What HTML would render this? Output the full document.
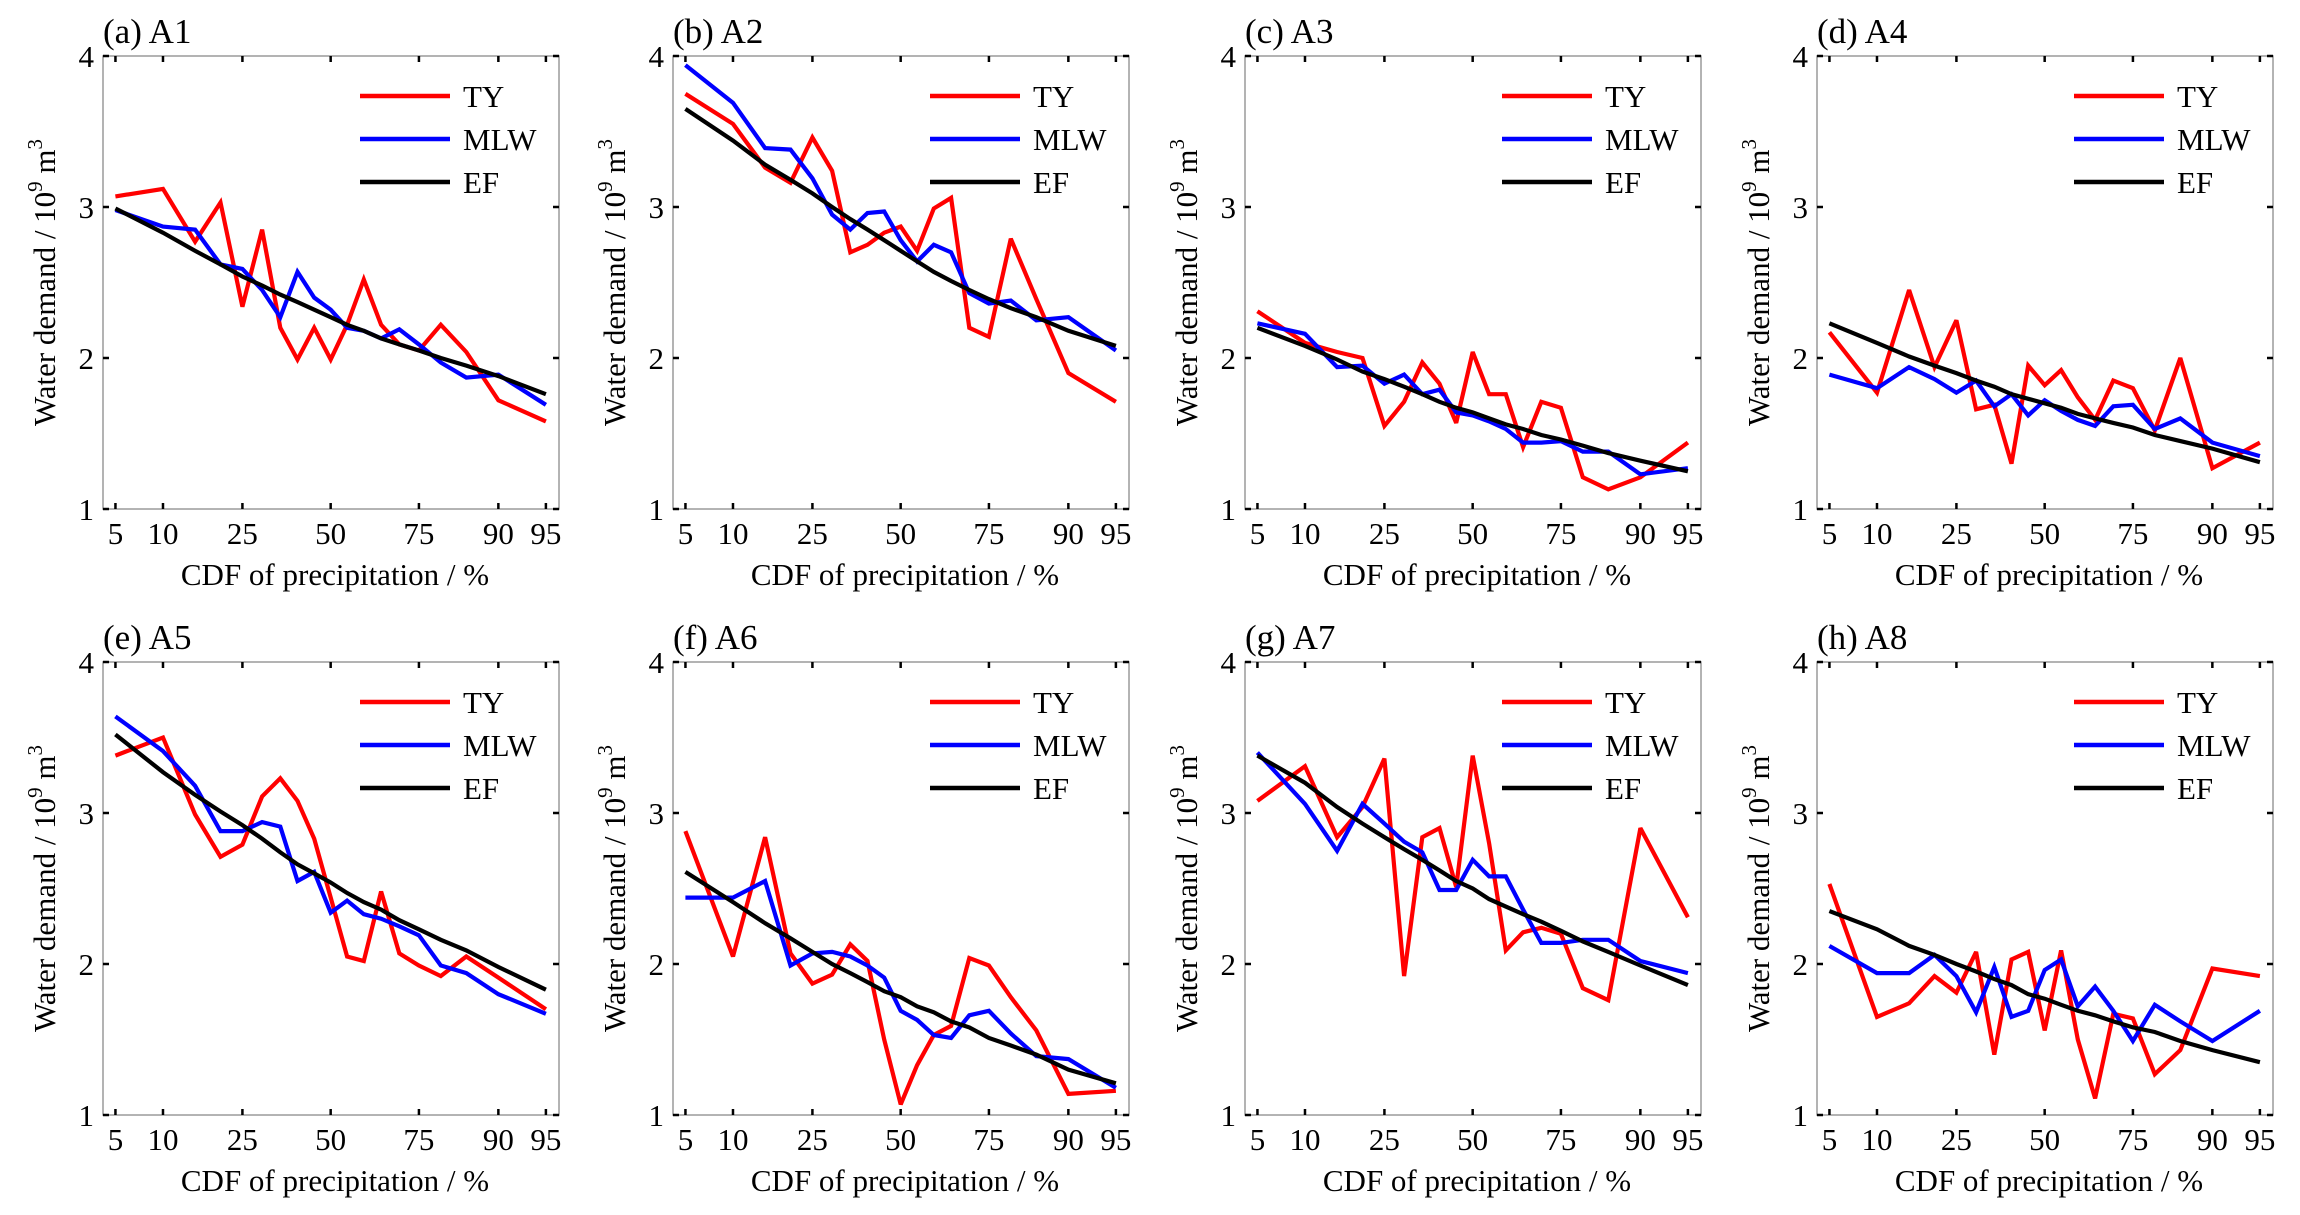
<!DOCTYPE html>
<html><head><meta charset="utf-8"><title>Water demand vs CDF of precipitation</title>
<style>
html,body{margin:0;padding:0;background:#fff;}
svg{display:block;}
svg text{font-family:"Liberation Serif","DejaVu Serif",serif;}
</style></head>
<body>
<svg id="fig" width="2300" height="1215" viewBox="0 0 2300 1215" xmlns="http://www.w3.org/2000/svg" font-family="Liberation Serif, DejaVu Serif, serif"></svg>
<script>
// ---- data ----
const percentiles = [5,10,15,20,25,30,35,40,45,50,55,60,65,70,75,80,85,90,95];
const xTickLabels = [5,10,25,50,75,90,95];
const yTickLabels = [1,2,3,4];
const panelTitles = ["(a) A1","(b) A2","(c) A3","(d) A4","(e) A5","(f) A6","(g) A7","(h) A8"];
const seriesNames = ["TY","MLW","EF"];
const seriesColors = ["#ff0000","#0000ff","#000000"];

const tyA1 = [3.07,3.12,2.77,3.03,2.34,2.85,2.20,1.99,2.20,1.99,2.22,2.52,2.22,2.09,2.05,2.22,2.04,1.72,1.58];
const mlwA1 = [2.98,2.87,2.85,2.62,2.59,2.45,2.27,2.57,2.40,2.32,2.20,2.18,2.13,2.19,2.09,1.97,1.87,1.89,1.69];
const efA1 = [2.99,2.83,2.71,2.62,2.54,2.48,2.42,2.37,2.32,2.27,2.22,2.18,2.13,2.09,2.05,2.00,1.95,1.88,1.76];

const tyA2 = [3.75,3.55,3.26,3.16,3.46,3.24,2.70,2.75,2.83,2.87,2.71,2.99,3.06,2.20,2.14,2.79,2.39,1.90,1.71];
const mlwA2 = [3.94,3.69,3.39,3.38,3.19,2.95,2.85,2.96,2.97,2.78,2.64,2.75,2.70,2.43,2.36,2.38,2.25,2.27,2.05];
const efA2 = [3.65,3.44,3.28,3.18,3.09,3.00,2.92,2.85,2.78,2.71,2.64,2.57,2.51,2.45,2.39,2.33,2.27,2.18,2.08];

const tyA3 = [2.31,2.10,2.04,2.00,1.55,1.71,1.97,1.83,1.57,2.04,1.76,1.76,1.41,1.71,1.67,1.21,1.13,1.21,1.44];
const mlwA3 = [2.23,2.16,1.94,1.95,1.83,1.89,1.76,1.79,1.64,1.62,1.58,1.53,1.44,1.44,1.45,1.38,1.38,1.23,1.27];
const efA3 = [2.20,2.08,1.99,1.91,1.86,1.81,1.76,1.71,1.67,1.64,1.60,1.56,1.53,1.49,1.46,1.42,1.37,1.32,1.25];

const tyA4 = [2.17,1.77,2.45,1.94,2.25,1.66,1.69,1.30,1.95,1.82,1.92,1.74,1.59,1.85,1.80,1.52,2.00,1.27,1.44];
const mlwA4 = [1.89,1.80,1.94,1.86,1.77,1.85,1.68,1.76,1.62,1.72,1.65,1.59,1.55,1.68,1.69,1.53,1.60,1.44,1.35];
const efA4 = [2.23,2.10,2.01,1.95,1.90,1.85,1.81,1.76,1.73,1.70,1.67,1.63,1.60,1.57,1.54,1.49,1.45,1.40,1.31];

const tyA5 = [3.38,3.50,2.99,2.71,2.79,3.11,3.23,3.08,2.83,2.44,2.05,2.02,2.48,2.07,1.99,1.92,2.05,1.91,1.70];
const mlwA5 = [3.64,3.41,3.18,2.88,2.88,2.94,2.91,2.55,2.61,2.34,2.42,2.33,2.30,2.25,2.19,1.99,1.94,1.80,1.67];
const efA5 = [3.52,3.27,3.12,3.01,2.92,2.83,2.74,2.66,2.60,2.54,2.47,2.41,2.36,2.29,2.23,2.16,2.09,1.98,1.83];

const tyA6 = [2.88,2.05,2.84,2.07,1.87,1.93,2.13,2.02,1.50,1.07,1.33,1.53,1.59,2.04,1.99,1.78,1.56,1.14,1.16];
const mlwA6 = [2.44,2.44,2.55,1.99,2.07,2.08,2.05,1.99,1.91,1.69,1.63,1.53,1.51,1.66,1.69,1.54,1.39,1.37,1.18];
const efA6 = [2.61,2.41,2.27,2.17,2.08,2.00,1.94,1.88,1.82,1.78,1.72,1.68,1.62,1.58,1.51,1.46,1.40,1.30,1.21];

const tyA7 = [3.08,3.31,2.84,3.04,3.36,1.92,2.84,2.90,2.51,3.38,2.80,2.09,2.21,2.24,2.20,1.84,1.76,2.90,2.31];
const mlwA7 = [3.40,3.06,2.75,3.06,2.93,2.81,2.74,2.49,2.49,2.69,2.58,2.58,2.36,2.14,2.14,2.16,2.16,2.02,1.94];
const efA7 = [3.38,3.20,3.04,2.93,2.84,2.76,2.69,2.62,2.55,2.50,2.43,2.38,2.33,2.28,2.22,2.15,2.08,1.99,1.86];

const tyA8 = [2.53,1.65,1.74,1.92,1.81,2.08,1.40,2.03,2.08,1.56,2.09,1.50,1.11,1.67,1.64,1.27,1.43,1.97,1.92];
const mlwA8 = [2.12,1.94,1.94,2.06,1.92,1.68,1.98,1.65,1.69,1.96,2.03,1.72,1.85,1.69,1.49,1.73,1.62,1.49,1.69];
const efA8 = [2.35,2.23,2.12,2.06,2.00,1.95,1.90,1.86,1.80,1.77,1.73,1.69,1.66,1.62,1.58,1.55,1.49,1.43,1.35];

const panelSeries = [
  [tyA1,mlwA1,efA1],[tyA2,mlwA2,efA2],[tyA3,mlwA3,efA3],[tyA4,mlwA4,efA4],
  [tyA5,mlwA5,efA5],[tyA6,mlwA6,efA6],[tyA7,mlwA7,efA7],[tyA8,mlwA8,efA8]
];

// ---- helpers ----
const NS = "http://www.w3.org/2000/svg";
const FONT = "Liberation Serif, DejaVu Serif, serif";
const svg = document.getElementById("fig");
function mk(tag, attrs, parent){
  const e = document.createElementNS(NS, tag);
  for (const k in attrs) e.setAttribute(k, attrs[k]);
  if (tag === "text") e.setAttribute("font-family", FONT);
  (parent||svg).appendChild(e);
  return e;
}
function norminv(p){
  const a=[-39.6968302866538,220.946098424521,-275.928510446969,138.357751867269,-30.6647980661472,2.50662827745924];
  const b=[-54.4760987982241,161.585836858041,-155.698979859887,66.8013118877197,-13.2806815528857];
  const c=[-0.00778489400243029,-0.322396458041136,-2.40075827716184,-2.54973253934373,4.37466414146497,2.93816398269878];
  const d=[0.00778469570904146,0.32246712907004,2.445134137143,3.75440866190742];
  const pl=0.02425;
  let q,r;
  if(p<pl){q=Math.sqrt(-2*Math.log(p));return (((((c[0]*q+c[1])*q+c[2])*q+c[3])*q+c[4])*q+c[5])/((((d[0]*q+d[1])*q+d[2])*q+d[3])*q+1);}
  if(p>1-pl){q=Math.sqrt(-2*Math.log(1-p));return -(((((c[0]*q+c[1])*q+c[2])*q+c[3])*q+c[4])*q+c[5])/((((d[0]*q+d[1])*q+d[2])*q+d[3])*q+1);}
  q=p-0.5;r=q*q;
  return (((((a[0]*r+a[1])*r+a[2])*r+a[3])*r+a[4])*r+a[5])*q/(((((b[0]*r+b[1])*r+b[2])*r+b[3])*r+b[4])*r+1);
}

const lefts = [103, 673, 1245, 1817];
const rowOff = [0, 606];
const W = 456, TOP = 56, BOT = 509;
const zMin = -1.74, zMax = 1.745, yMin = 1, yMax = 4;

for (let p = 0; p < 8; p++){
  const L = lefts[p % 4], R = L + W;
  const T = TOP + rowOff[Math.floor(p/4)], B = BOT + rowOff[Math.floor(p/4)];
  const xs = pc => L + (norminv(pc/100) - zMin) / (zMax - zMin) * W;
  const ys = v => B - (v - yMin) / (yMax - yMin) * (B - T);

  const g = mk("g", {});
  
  

  const box = mk("rect", {x:L, y:T, width:W, height:B-T, fill:"none", stroke:"#9a9a9a", "stroke-width":1.5}, g);
  
  

  const tt = mk("text", {x:L, y:T-13, "font-size":35, fill:"#000"}, g);
  tt.textContent = panelTitles[p];
  
  

  xTickLabels.forEach(v => {
    const x = xs(v);
    mk("line", {x1:x, x2:x, y1:B, y2:B-6, stroke:"#000", "stroke-width":2.5}, g);
    mk("line", {x1:x, x2:x, y1:T, y2:T+6, stroke:"#000", "stroke-width":2.5}, g);
    const t = mk("text", {x:x, y:B+35, "font-size":31, "text-anchor":"middle", fill:"#000"}, g);
    t.textContent = v;
    
    
  });
  yTickLabels.forEach(v => {
    const y = ys(v);
    mk("line", {x1:L, x2:L+6, y1:y, y2:y, stroke:"#000", "stroke-width":2.5}, g);
    mk("line", {x1:R, x2:R-6, y1:y, y2:y, stroke:"#000", "stroke-width":2.5}, g);
    const t = mk("text", {x:L-9, y:y+11, "font-size":31, "text-anchor":"end", fill:"#000"}, g);
    t.textContent = v;
    
    
  });

  const xl = mk("text", {x:L + W/2 + 4, y:B + 76, "font-size":31, "text-anchor":"middle", fill:"#000"}, g);
  xl.textContent = "CDF of precipitation / %";
  
  

  const cy = (T + B) / 2;
  const yl = mk("text", {x:0, y:0, "font-size":31, "text-anchor":"middle", fill:"#000",
    transform:"translate(" + (L-48) + "," + cy + ") rotate(-90)"}, g);
  
  
  const s1 = mk("tspan", {}, yl); s1.textContent = "Water demand / 10";
  const s2 = mk("tspan", {dy:-13, "font-size":21}, yl); s2.textContent = "9";
  const s3 = mk("tspan", {dy:13}, yl); s3.textContent = " m";
  const s4 = mk("tspan", {dy:-13, "font-size":21}, yl); s4.textContent = "3";

  panelSeries[p].forEach((vals, si) => {
    const pts = vals.map((v,i) => xs(percentiles[i]).toFixed(1) + "," + ys(v).toFixed(1)).join(" ");
    const pl = mk("polyline", {points:pts, fill:"none", stroke:seriesColors[si], "stroke-width":4.2, "stroke-linejoin":"miter", "stroke-miterlimit":3}, g);
    
    
  });

  seriesNames.forEach((nm, si) => {
    const ly = T + 40 + si * 43;
    const le = mk("g", {}, g);
    
    
    mk("line", {x1:L+257, x2:L+347, y1:ly, y2:ly, stroke:seriesColors[si], "stroke-width":4.5}, le);
    const t = mk("text", {x:L+360, y:ly+11, "font-size":31, fill:"#000"}, le);
    t.textContent = nm;
  });
}
</script>
</body></html>
